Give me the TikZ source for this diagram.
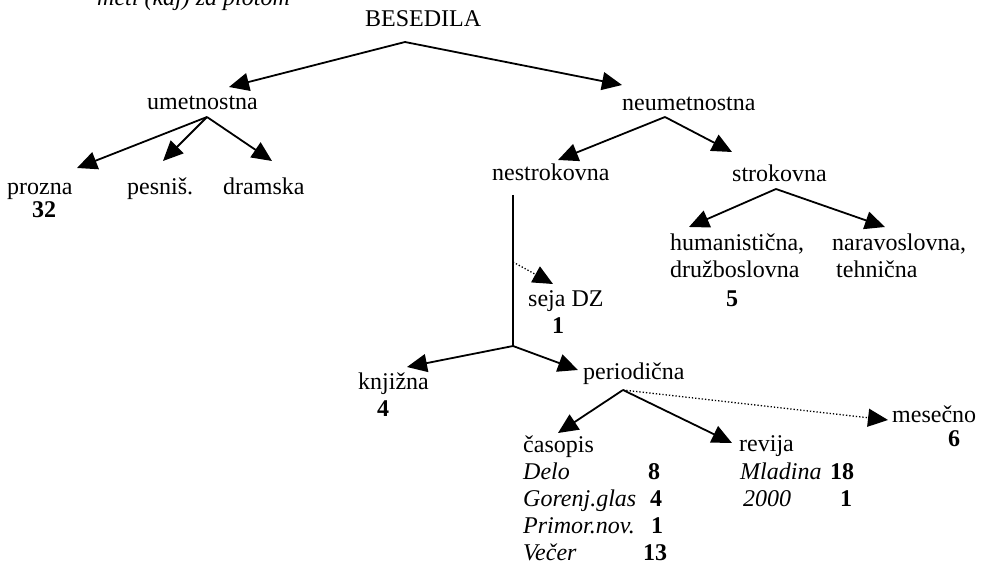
\documentclass[tikz,border=0pt]{standalone}
\usepackage{fontspec}
\setmainfont{Liberation Serif}
\usetikzlibrary{arrows.meta}
\begin{document}
\begin{tikzpicture}[x=1pt,y=-1pt,
  lbl/.style={anchor=base west,inner sep=0pt,font=\fontsize{24}{27}\selectfont},
  num/.style={anchor=base west,inner sep=0pt,font=\fontsize{24}{27}\selectfont\bfseries},
  itl/.style={anchor=base west,inner sep=0pt,font=\fontsize{24}{27}\selectfont\itshape},
  conn/.style={line width=1.8pt,-{Triangle[length=20pt,width=18pt]}},
  dotconn/.style={line width=1.3pt,dotted,-{Triangle[length=20pt,width=18pt]}},
  plain/.style={line width=1.8pt}]
\useasboundingbox (0,0) rectangle (989,569);
% texts
\node[itl] (top) at (97,6) {meti (kaj) za plotom};
\node[lbl] (bes) at (365,27) {BESEDILA};
\node[lbl] (umet) at (147,110) {umetnostna};
\node[lbl] (neumet) at (622,111) {neumetnostna};
\node[lbl] (proz) at (7,195) {prozna};
\node[num] (prozn) at (32,218) {32};
\node[lbl] (pesn) at (127,195) {pesniš.};
\node[lbl] (dram) at (223,195) {dramska};
\node[lbl] (nestr) at (492,181) {nestrokovna};
\node[lbl] (strok) at (732,182) {strokovna};
\node[lbl] (hum) at (670,251) {humanistična,};
\node[lbl] (druz) at (670,278) {družboslovna};
\node[num] (humn) at (726,307) {5};
\node[lbl] (nar) at (832,251) {naravoslovna,};
\node[lbl] (teh) at (836,278) {tehnična};
\node[lbl] (seja) at (528,307) {seja DZ};
\node[num] (sejan) at (552,334) {1};
\node[lbl] (knj) at (358,390) {knjižna};
\node[num] (knjn) at (377,417) {4};
\node[lbl] (per) at (583,380) {periodična};
\node[lbl] (cas) at (523,453) {časopis};
\node[itl] (delo) at (523,480) {Delo};
\node[num] (delon) at (648,480) {8};
\node[itl] (gor) at (523,507) {Gorenj.glas};
\node[num] (gorn) at (650,507) {4};
\node[itl] (pri) at (523,533) {Primor.nov.};
\node[num] (prin) at (651,533) {1};
\node[itl] (vec) at (523,560) {Večer};
\node[num] (vecn) at (643,560) {13};
\node[lbl] (rev) at (739,452) {revija};
\node[itl] (mla) at (740,480) {Mladina};
\node[num] (mlan) at (830,480) {18};
\node[itl] (dva) at (743,507) {2000};
\node[num] (dvan) at (840,507) {1};
\node[lbl] (mes) at (892,423) {mesečno};
\node[num] (mesn) at (948,447) {6};
% apex and tip coordinates
\coordinate (aBes) at (405,42);
\coordinate (tUmet) at (229,87);
\coordinate (tNeumet) at (622,85);
\coordinate (aUmet) at (207,117);
\coordinate (tProz) at (77,168);
\coordinate (tPesn) at (163,161);
\coordinate (tDram) at (272,161);
\coordinate (aNeumet) at (665,117);
\coordinate (tNestr) at (558,160);
\coordinate (tStrok) at (732,152);
\coordinate (aStrok) at (776,189);
\coordinate (tHum) at (689,227);
\coordinate (tNar) at (885,227);
\coordinate (vTop) at (513,195);
\coordinate (vMid) at (513,262);
\coordinate (tSeja) at (553,284);
\coordinate (vBot) at (513,346);
\coordinate (tKnj) at (407,367);
\coordinate (tPer) at (578,370);
\coordinate (aPer) at (623,390);
\coordinate (tCas) at (558,433);
\coordinate (tRev) at (732,443);
\coordinate (tMes) at (888,420);
% connectors
\draw[conn] (aBes) -- (tUmet);
\draw[conn] (aBes) -- (tNeumet);
\draw[conn] (aUmet) -- (tProz);
\draw[conn] (aUmet) -- (tPesn);
\draw[conn] (aUmet) -- (tDram);
\draw[conn] (aNeumet) -- (tNestr);
\draw[conn] (aNeumet) -- (tStrok);
\draw[conn] (aStrok) -- (tHum);
\draw[conn] (aStrok) -- (tNar);
\draw[plain] (vTop) -- (vBot);
\draw[dotconn] (vMid) -- (tSeja);
\draw[conn] (vBot) -- (tKnj);
\draw[conn] (vBot) -- (tPer);
\draw[conn] (aPer) -- (tCas);
\draw[conn] (aPer) -- (tRev);
\draw[dotconn] (aPer) -- (tMes);
\end{tikzpicture}
\end{document}
